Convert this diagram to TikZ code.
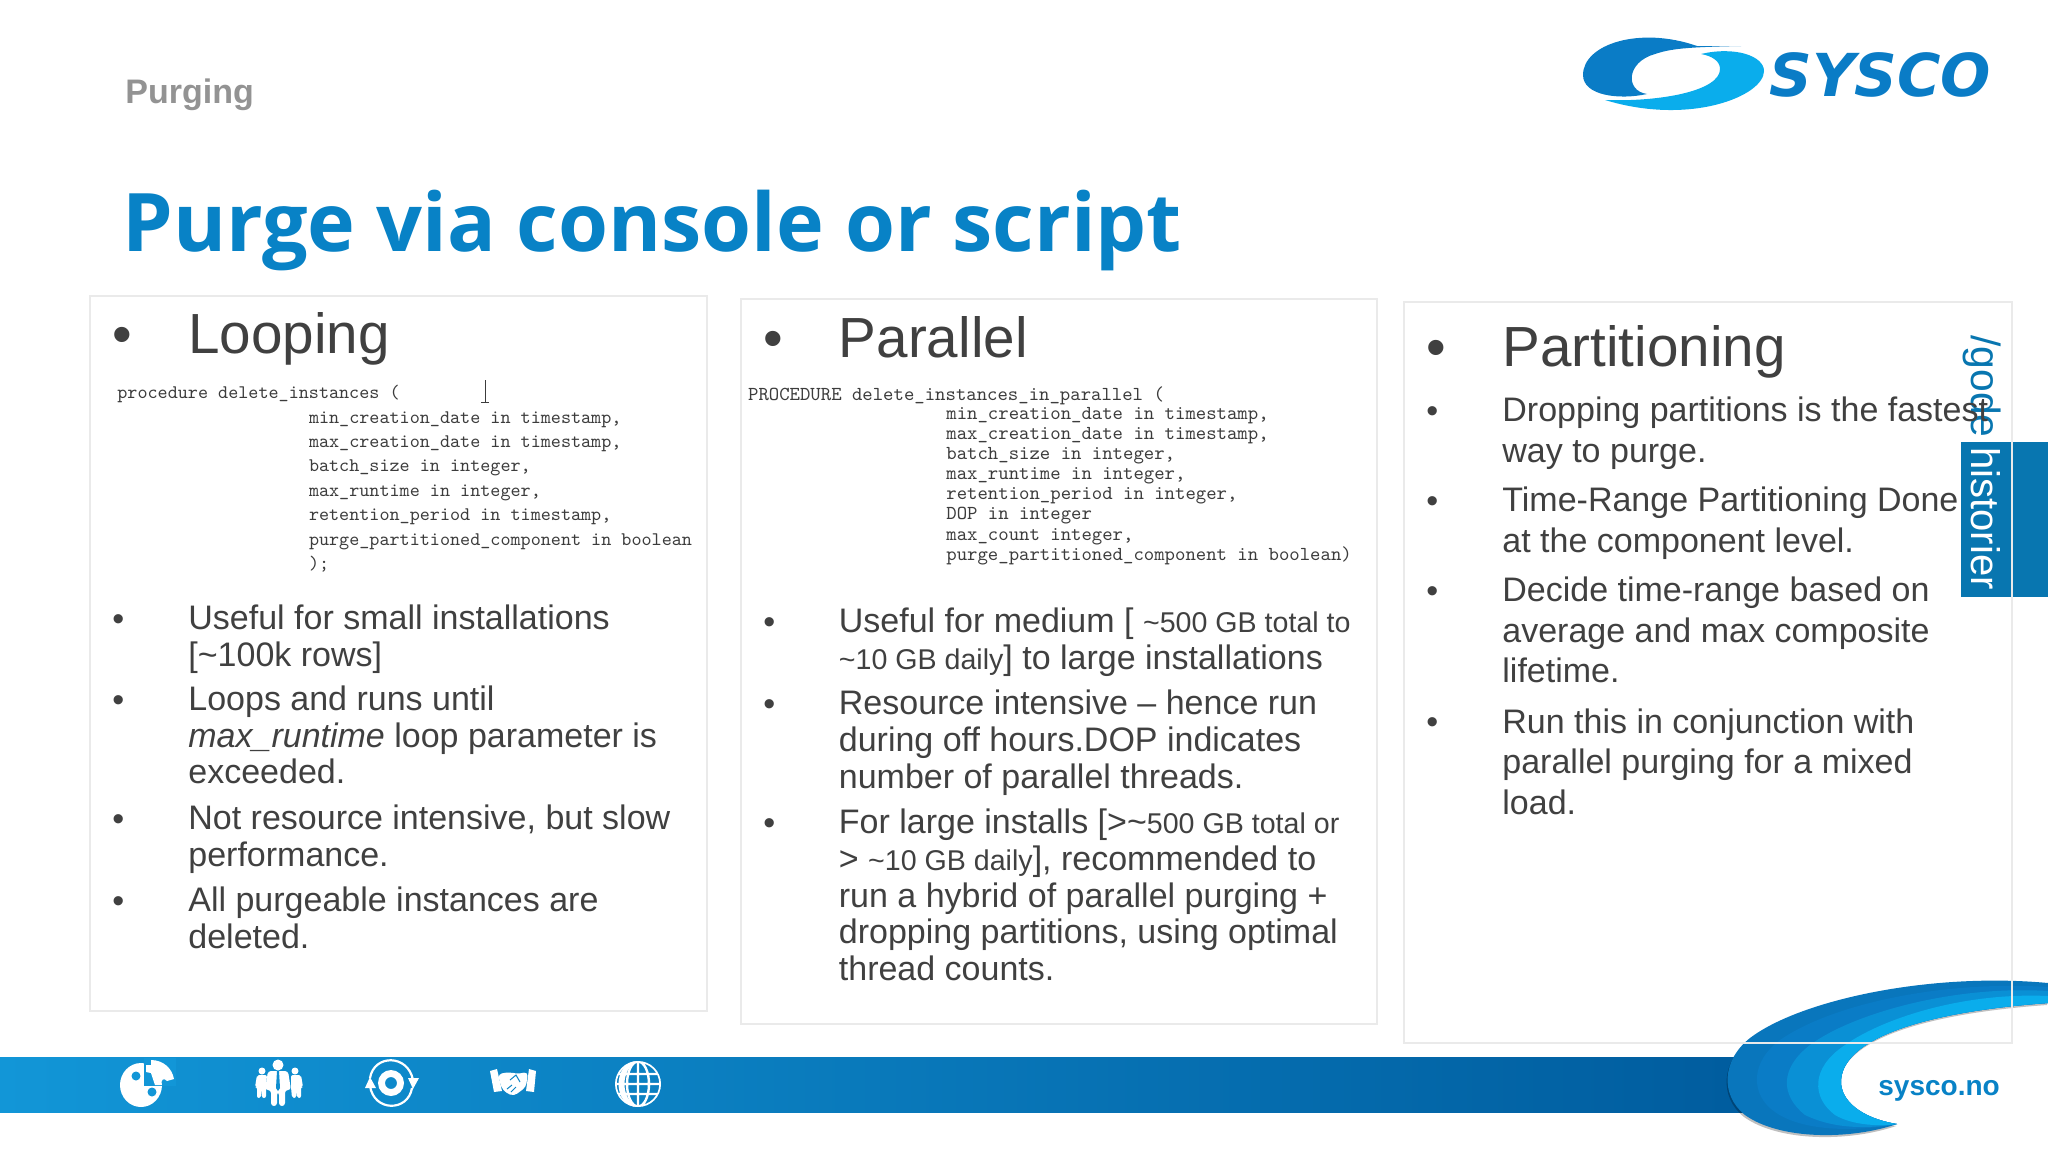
\documentclass[tikz,border=0pt]{standalone}
\usepackage{fontspec}
\setmainfont{Liberation Sans}
\newfontfamily\titlefont{Open Sans}
\newfontfamily\logofont{DejaVu Sans}
\usepackage{tikz}
\definecolor{inktext}{RGB}{64,64,64}
\definecolor{inkcode}{RGB}{60,60,60}
\definecolor{titleblue}{RGB}{8,130,198}
\definecolor{tabblue}{RGB}{8,118,176}
\definecolor{panelline}{RGB}{234,234,234}
\definecolor{barleft}{RGB}{18,150,215}
\definecolor{barright}{RGB}{0,92,158}
\definecolor{logodark}{RGB}{10,124,198}
\definecolor{logolight}{RGB}{10,173,236}
\tikzstyle{panel} = [draw=panelline, line width=0.75pt]
\tikzstyle{head} = [anchor=base west, inner sep=0pt, text=inktext, font=\fontsize{28.3}{32}\selectfont]
\tikzstyle{dot} = [anchor=base west, inner sep=0pt, text=inktext, font=\fontsize{17}{18.4}\selectfont]
\tikzstyle{body} = [anchor=north west, inner sep=0pt, align=left, text=inktext, yshift=12.88pt, font=\fontsize{17}{18.4}\selectfont, execute at begin node=\strut]
\tikzstyle{bodywide} = [anchor=north west, inner sep=0pt, align=left, text=inktext, yshift=14.21pt, font=\fontsize{17}{20.3}\selectfont, execute at begin node=\strut]
\tikzstyle{codeloop} = [anchor=north west, inner sep=0pt, align=left, text=inkcode, yshift=8.54pt, font=\ttfamily\fontsize{9.6}{12.2}\selectfont, execute at begin node=\strut]
\tikzstyle{codepar} = [anchor=north west, inner sep=0pt, align=left, text=inkcode, yshift=7.04pt, font=\ttfamily\fontsize{9.9}{10.05}\selectfont, execute at begin node=\strut]
\newcommand{\smalltxt}[1]{{\fontsize{14.3}{18.4}\selectfont #1}}
\begin{document}
\begin{tikzpicture}[x=0.5pt,y=-0.5pt]
	\useasboundingbox (0,0) rectangle (2048,1152);
	\fill[white] (0,0) rectangle (2048,1152);

	% Footer bar and swoosh
	\shade[left color=barleft, right color=barright] (0,1057) rectangle (1760,1112);
	\begin{scope}[shift={(-1,2)}]
		\fill[black, opacity=0.25] (2048,983) .. controls (1930,972) and (1800,1000) .. (1750,1038) .. controls (1722,1060) and (1720,1095) .. (1745,1115) .. controls (1780,1140) and (1850,1140) .. (1897,1124) .. controls (1860,1118) and (1841,1100) .. (1841,1082) .. controls (1841,1040) and (1920,1012) .. (2048,1003) -- cycle;
	\end{scope}
	\fill[logodark!95!black] (2048,983) .. controls (1930,972) and (1800,1000) .. (1750,1038) .. controls (1722,1060) and (1720,1095) .. (1745,1115) .. controls (1780,1140) and (1850,1140) .. (1897,1124) .. controls (1860,1118) and (1841,1100) .. (1841,1082) .. controls (1841,1040) and (1920,1012) .. (2048,1003) -- cycle;
	\fill[logodark] (2048,987) .. controls (1940,980) and (1830,1005) .. (1780,1040) .. controls (1750,1062) and (1750,1095) .. (1775,1112) .. controls (1800,1130) and (1850,1133) .. (1897,1124) .. controls (1860,1118) and (1841,1100) .. (1841,1082) .. controls (1841,1040) and (1920,1012) .. (2048,1003) -- cycle;
	\fill[logodark!60!logolight] (2048,991) .. controls (1950,985) and (1850,1015) .. (1810,1045) .. controls (1780,1068) and (1780,1095) .. (1805,1115) .. controls (1830,1127) and (1860,1130) .. (1897,1124) .. controls (1860,1118) and (1841,1100) .. (1841,1082) .. controls (1841,1040) and (1920,1012) .. (2048,1003) -- cycle;
	\fill[logolight] (2048,996) .. controls (1960,992) and (1880,1020) .. (1845,1045) .. controls (1810,1068) and (1812,1098) .. (1835,1115) .. controls (1850,1124) and (1875,1127) .. (1897,1124) .. controls (1860,1118) and (1841,1100) .. (1841,1082) .. controls (1841,1040) and (1920,1012) .. (2048,1003) -- cycle;
	\node (site) [anchor=base west, inner sep=0pt, text=titleblue, font=\fontsize{14}{16}\selectfont\bfseries] at (1878,1095) {sysco.no};

	% Side tab
	\fill[tabblue] (1961,442) rectangle (2048,597);
	\node (tabgode) [rotate=-90, anchor=base west, inner sep=0pt, text=tabblue, font=\fontsize{20.4}{24}\selectfont] at (1971,335) {/gode};
	\node (tabhist) [rotate=-90, anchor=base west, inner sep=0pt, text=white, font=\fontsize{20}{24}\selectfont] at (1971,447) {historier};

	% Panels
	\draw[panel] (90,296) rectangle (707,1011);
	\draw[panel] (741,299) rectangle (1377,1024);
	\draw[panel] (1404,302) rectangle (2012,1043);

	% Page heading
	\node (section) [anchor=base west, inner sep=0pt, text=gray!85, font=\fontsize{17}{20}\selectfont\bfseries] at (125,103) {Purging};
	\node (title) [anchor=base west, inner sep=0pt, text=titleblue, font=\titlefont\fontsize{40.4}{50}\selectfont\bfseries] at (122,251) {Purge via console or script};

	% Logo
	\fill[logodark] (1697,46) .. controls (1640,26) and (1583,44) .. (1583,75) .. controls (1583,96) and (1620,100) .. (1647,94) .. controls (1625,91) and (1626,62) .. (1655,54) .. controls (1670,49) and (1685,47) .. (1741,46) -- cycle;
	\fill[logolight] (1701,54) .. controls (1735,46) and (1764,56) .. (1764,71) .. controls (1764,96) and (1690,126) .. (1605,100) .. controls (1660,102) and (1720,91) .. (1720,69) .. controls (1720,61) and (1712,56) .. (1701,54) -- cycle;
	\node (sysco) [anchor=base west, inner sep=0pt, text=logodark, font=\logofont\fontsize{29.6}{34}\selectfont\bfseries\itshape] at (1769,96) {SYSCO};

	% Looping
	\node (loopdot) [dot, font=\fontsize{28}{32}\selectfont] at (112,353.5) {•};
	\node (loophead) [head] at (188,353.5) {Looping};
	\node (loopsig) [codeloop] at (117,398) {procedure delete\_instances (};
	\node (loopargs) [codeloop] at (308.6,428) {min\_creation\_date in timestamp,\\max\_creation\_date in timestamp,\\batch\_size in integer,\\max\_runtime in integer,\\retention\_period in timestamp,\\purge\_partitioned\_component in boolean\\);};
	\draw[inkcode, line width=0.5pt] (485,380) -- (485,402) (481,402) -- (489,402);
	\node (loopdota) [dot] at (112,630) {•};
	\node (loopa) [body] at (188,630) {Useful for small installations\\{[}\textasciitilde100k rows]};
	\node (loopdotb) [dot] at (112,711) {•};
	\node (loopb) [body] at (188,711) {Loops and runs until\\\textit{max\_runtime} loop parameter is\\exceeded.};
	\node (loopdotc) [dot] at (112,830) {•};
	\node (loopc) [body] at (188,830) {Not resource intensive, but slow\\performance.};
	\node (loopdotd) [dot] at (112,912) {•};
	\node (loopd) [body] at (188,912) {All purgeable instances are\\deleted.};

	% Parallel
	\node (pardot) [dot, font=\fontsize{28}{32}\selectfont] at (763,357.5) {•};
	\node (parhead) [head] at (838.5,357.5) {Parallel};
	\node (parsig) [codepar] at (747.7,400.3) {PROCEDURE delete\_instances\_in\_parallel (};
	\node (parargs) [codepar] at (946,421) {min\_creation\_date in timestamp,\\max\_creation\_date in timestamp,\\batch\_size in integer,\\max\_runtime in integer,\\retention\_period in integer,\\DOP in integer\\max\_count integer,\\purge\_partitioned\_component in boolean)};
	\node (pardota) [dot] at (763,633) {•};
	\node (para) [body] at (838.5,633) {Useful for medium [ \smalltxt{\textasciitilde500 GB total to}\\\smalltxt{\textasciitilde10 GB daily}] to large installations};
	\node (pardotb) [dot] at (763,715.3) {•};
	\node (parb) [body] at (838.5,715.3) {Resource intensive – hence run\\during off hours.DOP indicates\\number of parallel threads.};
	\node (pardotc) [dot] at (763,834.3) {•};
	\node (parc) [body] at (838.5,834.3) {For large installs [>\textasciitilde\smalltxt{500 GB total or}\\> \smalltxt{\textasciitilde10 GB daily}], recommended to\\run a hybrid of parallel purging +\\dropping partitions, using optimal\\thread counts.};

	% Partitioning
	\node (partdot) [dot, font=\fontsize{28}{32}\selectfont] at (1426,366.5) {•};
	\node (parthead) [head] at (1502,366.5) {Partitioning};
	\node (partdota) [dot] at (1426,422) {•};
	\node (parta) [bodywide] at (1502,425) {Dropping partitions is the fastest\\way to purge.};
	\node (partdotb) [dot] at (1426,512) {•};
	\node (partb) [bodywide] at (1502,515) {Time-Range Partitioning Done\\at the component level.};
	\node (partdotc) [dot] at (1426,602) {•};
	\node (partc) [bodywide] at (1502,605) {Decide time-range based on\\average and max composite\\lifetime.};
	\node (partdotd) [dot] at (1426,733) {•};
	\node (partd) [bodywide] at (1502,736.5) {Run this in conjunction with\\parallel purging for a mixed\\load.};

	% Footer icons
	\fill[white] (141,1085) ellipse (21 and 22);
	\fill[barleft] (144,1058) rectangle (176,1086);
	\fill[barleft] (136,1076) circle (4.5) (152,1092) circle (4.5);
	\fill[white] (151,1060) .. controls (163,1060) and (172,1068) .. (174,1079) -- (167,1081) .. controls (164,1077) and (160,1080) .. (162,1085) -- (155,1085) -- (151,1073) -- (146,1072) -- (146,1065) -- (151,1065) -- cycle;

	\fill[white] (278,1065) circle (5.5) (262,1071) circle (3.5) (295,1071) circle (3.5);
	\fill[white, rounded corners=1.5] (265,1090) -- (268,1071) -- (288,1071) -- (291,1090) -- (285,1090) -- (285,1106) -- (279,1106) -- (279,1092) -- (277,1092) -- (277,1106) -- (271,1106) -- (271,1090) -- cycle;
	\fill[white, rounded corners=1] (255,1087) -- (257,1075) -- (267,1075) -- (266,1087) -- (266,1098) -- (262,1098) -- (262,1089) -- (261,1098) -- (257,1098) -- (257,1087) -- cycle;
	\fill[white, rounded corners=1] (303,1087) -- (301,1075) -- (291,1075) -- (291,1087) -- (292,1098) -- (296,1098) -- (296,1089) -- (297,1098) -- (301,1098) -- (301,1087) -- cycle;
	\fill[barleft!85!barright] (277,1071) -- (279,1071) -- (280,1088) -- (278,1091) -- (276,1088) -- cycle;

	\fill[white, even odd rule] (391,1083) circle (13) (391,1083) circle (6);
	\draw[white, line width=1.1pt] (370,1078) .. controls (374,1054) and (408,1054) .. (413,1080);
	\draw[white, line width=1.1pt] (412,1088) .. controls (408,1112) and (374,1112) .. (370,1086);
	\fill[white] (408,1078) -- (419,1078) -- (413,1089) -- cycle;
	\fill[white] (365,1088) -- (376,1088) -- (370,1077) -- cycle;

	\fill[white] (490,1071) -- (497,1069) -- (502,1091) -- (494,1092) -- cycle;
	\fill[white] (536,1071) -- (529,1069) -- (526,1091) -- (534,1092) -- cycle;
	\fill[white, rounded corners=2] (498,1074) -- (510,1072) -- (516,1074) -- (528,1072) -- (526,1087) -- (514,1096) -- (506,1093) -- (501,1087) -- cycle;
	\draw[barleft!70!barright, line width=0.5pt] (510,1080) -- (516,1075) -- (520,1082) (507,1089) -- (512,1085) (511,1092) -- (516,1087);

	\begin{scope}
		\clip (638,1084) circle (23);
		\draw[white, line width=1.2pt] (638,1084) circle (22.5) (638,1084) ellipse (11 and 22.5) (638,1061) -- (638,1107) (615,1074) -- (661,1074) (615,1084) -- (661,1084) (615,1094) -- (661,1094);
		\fill[white] (638,1061) .. controls (612,1061) and (612,1107) .. (638,1107) .. controls (620,1100) and (620,1068) .. (638,1061) -- cycle;
	\end{scope}
\end{tikzpicture}
\end{document}
